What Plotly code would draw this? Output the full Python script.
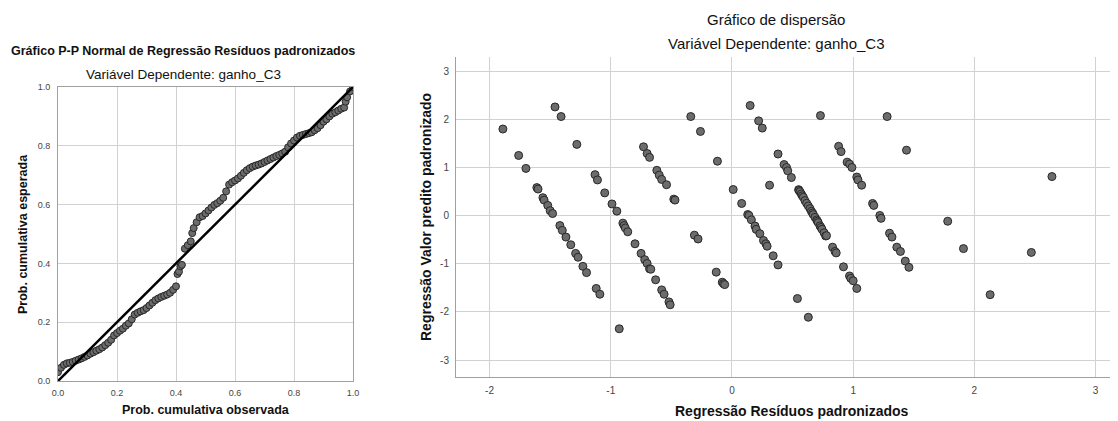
import plotly.graph_objects as go

# page body has an 8px margin: the figure is drawn starting at (8, 8)
OFF = 8
FW, FH = 1110, 413

# ---------------- P-P plot data (observed vs expected cumulative prob) ----------------
pp_observed = [0.00, 0.01, 0.02, 0.03, 0.04, 0.05, 0.06, 0.07, 0.08, 0.09,
               0.10, 0.11, 0.12, 0.13, 0.14, 0.15, 0.16, 0.17, 0.18, 0.19,
               0.20, 0.21, 0.22, 0.23, 0.24, 0.25, 0.26, 0.27, 0.28, 0.29,
               0.30, 0.31, 0.32, 0.33, 0.34, 0.35, 0.36, 0.37, 0.38, 0.39,
               0.40, 0.405, 0.41, 0.415, 0.42, 0.43, 0.44, 0.45, 0.455, 0.46,
               0.47, 0.48, 0.49, 0.50, 0.51, 0.52, 0.53, 0.54, 0.55, 0.56,
               0.57, 0.58, 0.59, 0.60, 0.61, 0.62, 0.63, 0.64, 0.65, 0.66,
               0.67, 0.68, 0.69, 0.70, 0.71, 0.72, 0.73, 0.74, 0.75, 0.76,
               0.77, 0.78, 0.79, 0.80, 0.81, 0.82, 0.83, 0.84, 0.85, 0.86,
               0.87, 0.88, 0.89, 0.90, 0.91, 0.92, 0.93, 0.94, 0.95, 0.96,
               0.97, 0.975, 0.98, 0.99, 1.00]
pp_expected = [0.030, 0.045, 0.055, 0.060, 0.062, 0.065, 0.069, 0.073, 0.077, 0.082,
               0.087, 0.093, 0.098, 0.103, 0.108, 0.114, 0.122, 0.130, 0.140, 0.155,
               0.163, 0.171, 0.178, 0.188, 0.196, 0.210, 0.226, 0.232, 0.237, 0.241,
               0.248, 0.257, 0.266, 0.275, 0.281, 0.286, 0.290, 0.294, 0.300, 0.310,
               0.322, 0.364, 0.372, 0.390, 0.395, 0.450, 0.462, 0.475, 0.503, 0.520,
               0.540, 0.557, 0.561, 0.570, 0.580, 0.590, 0.599, 0.605, 0.613, 0.623,
               0.645, 0.668, 0.676, 0.682, 0.689, 0.698, 0.708, 0.717, 0.724, 0.729,
               0.733, 0.736, 0.740, 0.745, 0.750, 0.755, 0.760, 0.765, 0.769, 0.774,
               0.780, 0.795, 0.808, 0.818, 0.828, 0.834, 0.837, 0.840, 0.843, 0.846,
               0.853, 0.860, 0.870, 0.882, 0.890, 0.900, 0.909, 0.914, 0.920, 0.926,
               0.930, 0.950, 0.965, 0.985, 1.000]
diag_line = [0.0, 1.0]
pp_ticks = [0.0, 0.2, 0.4, 0.6, 0.8, 1.0]
pp_ticktext = ["0.0", "0.2", "0.4", "0.6", "0.8", "1.0"]

# ---------------- Scatter data (standardized residual vs standardized predicted) ----------------
resid = [-1.89, -1.76, -1.70, -1.61, -1.60, -1.56, -1.55, -1.52, -1.50, -1.48,
         -1.42, -1.40, -1.37, -1.33, -1.29, -1.27, -1.23, -1.20, -1.12, -1.09,
         -1.46, -1.41, -1.28,
         -1.13, -1.11, -1.05, -0.99, -0.95, -0.90, -0.89, -0.88, -0.86, -0.80,
         -0.75, -0.72, -0.70, -0.68, -0.67, -0.63, -0.58, -0.56, -0.52, -0.51,
         -0.93,
         -0.73, -0.70, -0.68, -0.62, -0.60, -0.58, -0.54, -0.48, -0.47,
         -0.34, -0.26, -0.12, -0.31, -0.28, -0.13, -0.08, -0.07, -0.06,
         0.01, 0.08, 0.13, 0.14, 0.16, 0.19, 0.20, 0.23, 0.26, 0.28, 0.29, 0.34, 0.38,
         0.15, 0.22, 0.25, 0.31, 0.38, 0.54, 0.63, 0.73,
         0.43, 0.45, 0.46, 0.49,
         0.550, 0.553, 0.561, 0.572, 0.580, 0.589, 0.602, 0.616, 0.630, 0.644,
         0.655, 0.665, 0.671, 0.685, 0.699, 0.705, 0.712, 0.726, 0.735, 0.743,
         0.760, 0.773, 0.78, 0.83, 0.85, 0.86, 0.92, 0.97, 0.98, 1.00, 1.03,
         0.88, 0.90, 0.95, 0.97, 0.99, 1.03, 1.04, 1.07, 1.16, 1.17, 1.22, 1.23,
         1.30, 1.32, 1.36, 1.39, 1.43, 1.46,
         1.28, 1.44, 1.78, 1.91, 2.13, 2.47, 2.64]
pred = [1.81, 1.26, 0.99, 0.59, 0.56, 0.38, 0.33, 0.22, 0.11, 0.05,
        -0.20, -0.30, -0.44, -0.60, -0.78, -0.86, -1.05, -1.18, -1.51, -1.63,
        2.27, 2.07, 1.49,
        0.86, 0.75, 0.48, 0.25, 0.10, -0.15, -0.20, -0.25, -0.33, -0.58,
        -0.78, -0.91, -0.99, -1.10, -1.11, -1.33, -1.54, -1.63, -1.79, -1.85,
        -2.35,
        1.44, 1.30, 1.22, 0.95, 0.85, 0.76, 0.65, 0.35, 0.33,
        2.07, 1.76, 1.14, -0.40, -0.48, -1.17, -1.38, -1.41, -1.43,
        0.55, 0.26, 0.03, 0.01, -0.08, -0.21, -0.28, -0.37, -0.51, -0.58, -0.63, -0.83, -1.02,
        2.30, 1.98, 1.83, 0.64, 1.29, -1.72, -2.11, 2.09,
        1.07, 1.01, 0.94, 0.80,
        0.548, 0.530, 0.506, 0.458, 0.420, 0.389, 0.319, 0.264, 0.208, 0.153,
        0.097, 0.060, 0.028, -0.028, -0.083, -0.110, -0.139, -0.208, -0.240, -0.278,
        -0.350, -0.417, -0.41, -0.65, -0.74, -0.77, -1.06, -1.25, -1.30, -1.35, -1.51,
        1.45, 1.34, 1.12, 1.08, 1.01, 0.81, 0.75, 0.64, 0.26, 0.22, 0.01, -0.05,
        -0.36, -0.44, -0.65, -0.74, -0.94, -1.07,
        2.07, 1.37, -0.11, -0.68, -1.64, -0.76, 0.82]
sc_xticks = [-2, -1, 0, 1, 2, 3]
sc_xticktext = ["-2", "-1", "0", "1", "2", "3"]
sc_yticks = [-3, -2, -1, 0, 1, 2, 3]
sc_yticktext = ["-3", "-2", "-1", "0", "1", "2", "3"]

FONT = "Liberation Sans, Arial, sans-serif"
GRID = "#d2d2d2"
AXLINE = "#a0a0a0"
MFILL = "rgb(108,108,108)"
MLINE = "rgb(40,40,40)"


def px_x(p):
    return (p - OFF) / FW


def px_y(p):
    return 1 - (p - OFF) / FH


fig = go.Figure()

fig.add_trace(go.Scatter(
    x=pp_observed, y=pp_expected, mode="markers", xaxis="x", yaxis="y",
    marker=dict(size=7, color=MFILL, line=dict(width=1, color=MLINE)),
    showlegend=False, hoverinfo="skip"))
fig.add_trace(go.Scatter(
    x=diag_line, y=diag_line, mode="lines", xaxis="x", yaxis="y",
    line=dict(color="black", width=2.5), showlegend=False, hoverinfo="skip"))
fig.add_trace(go.Scatter(
    x=resid, y=pred, mode="markers", xaxis="x2", yaxis="y2",
    marker=dict(size=8, color=MFILL, line=dict(width=1, color=MLINE)),
    showlegend=False, hoverinfo="skip"))

common = dict(showgrid=True, gridcolor=GRID, gridwidth=1, zeroline=False,
              showline=True, linecolor=AXLINE, linewidth=1, ticks="",
              fixedrange=True, automargin=False)

fig.update_layout(
    width=FW, height=FH,
    margin=dict(l=0, r=0, t=0, b=0, pad=0),
    paper_bgcolor="white", plot_bgcolor="white",
    font=dict(family=FONT, color="#222"),
    xaxis=dict(domain=[px_x(58), px_x(353)], range=[0, 1], anchor="y",
               tickvals=pp_ticks, ticktext=pp_ticktext, mirror=True,
               tickfont=dict(size=9, color="#444"), ticklabelstandoff=3, **common),
    yaxis=dict(domain=[px_y(381), px_y(87)], range=[0, 1], anchor="x",
               tickvals=pp_ticks, ticktext=pp_ticktext, mirror=True,
               tickfont=dict(size=9, color="#444"), ticklabelstandoff=5, **common),
    xaxis2=dict(domain=[px_x(456), px_x(1114)], range=[-2.277, 3.152], anchor="y2",
                tickvals=sc_xticks, ticktext=sc_xticktext,
                tickfont=dict(size=10, color="#444"),
                ticklabelstandoff=4, **common),
    yaxis2=dict(domain=[px_y(377), px_y(57)], range=[-3.354, 3.31], anchor="x2",
                tickvals=sc_yticks, ticktext=sc_yticktext,
                tickfont=dict(size=10, color="#444"),
                ticklabelstandoff=4, **common),
)


def note(text, x, y, size, bold=False, angle=0):
    fig.add_annotation(
        text=("<b>%s</b>" % text) if bold else text,
        x=px_x(x), y=px_y(y), xref="paper", yref="paper",
        xanchor="center", yanchor="middle", showarrow=False, textangle=angle,
        font=dict(family=FONT, size=size, color="#111"))


note("Gráfico P-P Normal de Regressão Resíduos padronizados", 183, 51, 12.5, bold=True)
note("Variável Dependente: ganho_C3", 183, 74, 13.5)
note("Prob. cumulativa observada", 206, 410, 12.5, bold=True)
note("Prob. cumulativa esperada", 23, 234, 12.5, bold=True, angle=-90)

note("Gráfico de dispersão", 776, 20, 15)
note("Variável Dependente: ganho_C3", 776, 43, 15)
note("Regressão Resíduos padronizados", 792, 411, 14, bold=True)
note("Regressão Valor predito padronizado", 426, 217, 14, bold=True, angle=-90)

fig.write_html("out.html")
